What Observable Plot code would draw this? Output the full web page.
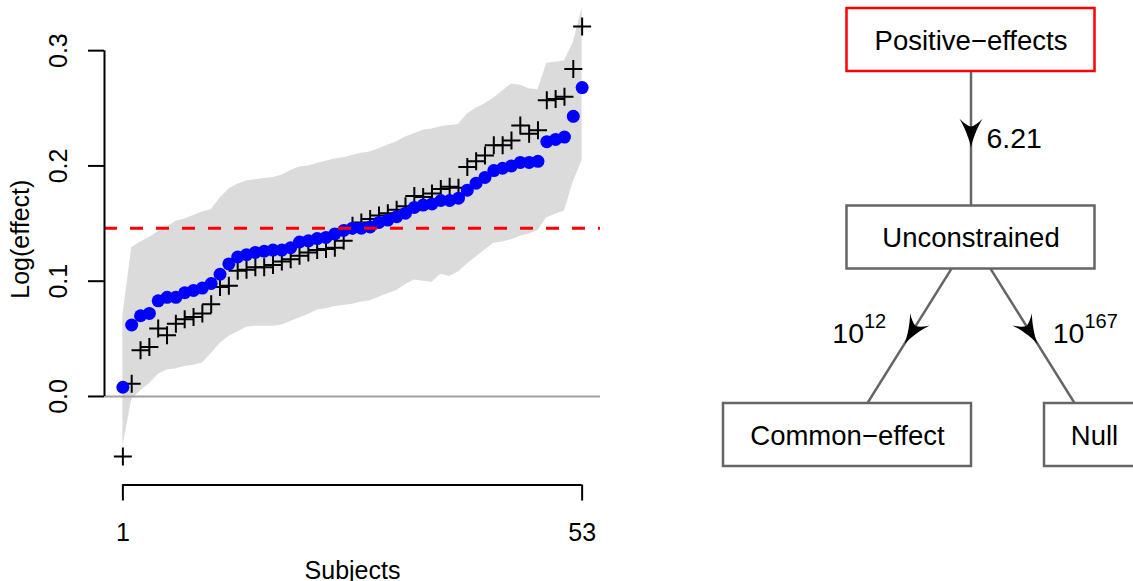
<!DOCTYPE html>
<html><head><meta charset="utf-8">
<script src="https://cdn.jsdelivr.net/npm/d3@7"></script>
<script src="https://cdn.jsdelivr.net/npm/@observablehq/plot@0.6"></script>
<style>
html,body{margin:0;padding:0;background:#fff;overflow:hidden;}
#wrap{display:flex;width:1133px;height:581px;overflow:hidden;}
#wrap > svg{flex:none;max-width:none;overflow:visible;}
</style></head><body><div id="wrap"></div>
<script>
// ---------- data: left panel ----------
const subjects = d3.range(1, 54);
const estimate = [0.008,0.062,0.070,0.072,0.083,0.086,0.086,0.090,0.092,0.094,
  0.098,0.106,0.115,0.121,0.123,0.125,0.126,0.127,0.127,0.129,
  0.134,0.135,0.137,0.138,0.141,0.144,0.146,0.146,0.147,0.151,
  0.153,0.156,0.159,0.164,0.166,0.167,0.170,0.170,0.172,0.179,
  0.185,0.190,0.196,0.198,0.200,0.203,0.203,0.204,0.221,0.223,
  0.225,0.243,0.268];
const observed = [-0.052,0.011,0.040,0.043,0.059,0.053,0.063,0.067,0.069,0.072,
  0.080,0.095,0.096,0.109,0.110,0.112,0.112,0.114,0.117,0.119,
  0.122,0.125,0.127,0.128,0.129,0.135,0.148,0.151,0.154,0.157,
  0.159,0.162,0.165,0.174,0.173,0.176,0.180,0.182,0.181,0.199,
  0.204,0.209,0.218,0.218,0.222,0.235,0.228,0.231,0.257,0.258,
  0.260,0.284,0.321];
const lower = [-0.044,-0.003,0.005,0.011,0.019,0.023,0.024,0.026,0.027,0.029,
  0.037,0.046,0.052,0.056,0.060,0.061,0.061,0.061,0.062,0.065,
  0.068,0.071,0.075,0.076,0.078,0.079,0.080,0.082,0.083,0.086,
  0.089,0.092,0.097,0.101,0.100,0.099,0.106,0.104,0.108,0.115,
  0.121,0.127,0.133,0.134,0.136,0.139,0.141,0.144,0.155,0.158,
  0.161,0.186,0.205];
const upper = [0.070,0.129,0.134,0.138,0.143,0.147,0.152,0.154,0.157,0.160,
  0.162,0.172,0.180,0.184,0.187,0.188,0.189,0.190,0.192,0.196,
  0.199,0.200,0.202,0.204,0.206,0.207,0.209,0.211,0.212,0.215,
  0.218,0.221,0.225,0.228,0.231,0.232,0.234,0.235,0.236,0.245,
  0.250,0.254,0.259,0.265,0.271,0.270,0.267,0.266,0.289,0.290,
  0.291,0.307,0.337];
const referenceLine = 0.146;
const xTicks = [1, 53];
const yTicks = [0, 0.1, 0.2, 0.3];
const xLabel = "Subjects";
const yLabel = "Log(effect)";

// ---------- data: right panel ----------
const models = ["Positive−effects", "Unconstrained", "Common−effect", "Null"];
const modelLevel = [0, 1, 2, 2];
const modelColumn = [0, 0, -1, 1];
const modelHighlight = [true, false, false, false];
const edgeFrom = [0, 1, 1];
const edgeTo = [1, 2, 3];
const edgeLabels = ["6.21", "10^12", "10^167"];

const FONT = "'Liberation Sans', Arial, Helvetica, sans-serif";

// ---------- left panel ----------
const rows = subjects.map((s, i) => ({s, est: estimate[i], obs: observed[i], lo: lower[i], hi: upper[i]}));
const xDom = [-1.08, 55.08];
const yDom = [-0.0768, 0.3435];
const plusSymbol = {draw(c) { c.moveTo(-9, 0); c.lineTo(9, 0); c.moveTo(0, -9); c.lineTo(0, 9); }};

const left = Plot.plot({
  width: 620, height: 581,
  marginLeft: 104, marginRight: 20, marginTop: 0, marginBottom: 96.5,
  style: {fontFamily: FONT, fontSize: "25px", background: "white", color: "black"},
  x: {domain: xDom},
  y: {domain: yDom},
  marks: [
    Plot.areaY(rows, {x: "s", y1: "lo", y2: "hi", fill: "#dbdbdb"}),
    Plot.ruleY([0], {stroke: "#a0a0a0", strokeWidth: 2}),
    Plot.dot(rows, {x: "s", y: "obs", symbol: plusSymbol, stroke: "black", strokeWidth: 2, fill: "none"}),
    Plot.dot(rows, {x: "s", y: "est", r: 6.5, fill: "blue", stroke: "none"}),
    Plot.ruleY([referenceLine], {stroke: "red", strokeWidth: 3, strokeDasharray: "13 13"}),
    Plot.ruleX([xDom[0]], {y1: yTicks[0], y2: yTicks[yTicks.length - 1], stroke: "black", strokeWidth: 2}),
    Plot.ruleY([yDom[0]], {x1: xTicks[0], x2: xTicks[1], stroke: "black", strokeWidth: 2}),
    Plot.axisY({ticks: yTicks, tickFormat: d3.format(".1f"), tickSize: 16, tickRotate: -90, tickPadding: 22, fontSize: 25, strokeWidth: 2, label: null}),
    Plot.axisX({ticks: xTicks, tickFormat: d => String(d), tickSize: 16, tickPadding: 22, fontSize: 25, strokeWidth: 2, label: null}),
    Plot.text([xLabel], {text: d => d, frameAnchor: "bottom", lineAnchor: "top", dy: 76, fontSize: 25}),
    Plot.text([yLabel], {text: d => d, frameAnchor: "left", rotate: -90, dx: -84, dy: 56, fontSize: 25})
  ]
});

// ---------- right panel ----------
const nodes = models.map((name, i) => ({name, level: modelLevel[i], col: modelColumn[i], hi: modelHighlight[i]}));
const RW = 513, RH = 581, rML = 227, rMR = 39, rMT = 39.5, rMB = 146.5;
const kx = (RW - rML - rMR) / 2, ky = (RH - rMT - rMB) / 2;
const edges = edgeFrom.map((f, k) => {
  const a = nodes[f], b = nodes[edgeTo[k]];
  const dxp = (b.col - a.col) * kx, dyp = (b.level - a.level) * ky;
  return {x1: a.col, y1: a.level, x2: b.col, y2: b.level,
    xm: (a.col + b.col) / 2, ym: (a.level + b.level) / 2,
    angle: Math.atan2(-dxp, dyp) * 180 / Math.PI, label: edgeLabels[k]};
});
const arrowHead = {draw(c) {
  c.moveTo(0, 9);
  c.bezierCurveTo(-1.5, 1, -6, -11, -11.5, -20);
  c.quadraticCurveTo(-5, -13.5, 0, -12);
  c.quadraticCurveTo(5, -13.5, 11.5, -20);
  c.bezierCurveTo(6, -11, 1.5, 1, 0, 9);
  c.closePath();
}};
const boxHalfWidth = {"Null": 50};
const boxStyle = (hw) => ({x1: "col", x2: "col", y1: "level", y2: "level",
  insetLeft: -hw, insetRight: -hw, insetTop: -31.5, insetBottom: -31.5,
  fill: "white", strokeWidth: 2.5});
const wideNodes = nodes.filter(d => !(d.name in boxHalfWidth));
const narrowNodes = nodes.filter(d => d.name in boxHalfWidth);

const right = Plot.plot({
  width: RW, height: RH,
  marginLeft: rML, marginRight: rMR, marginTop: rMT, marginBottom: rMB,
  style: {fontFamily: FONT, fontSize: "27px", background: "white", color: "black", overflow: "visible"},
  x: {domain: [-1, 1], axis: null},
  y: {domain: [0, 2], reverse: true, axis: null},
  marks: [
    Plot.link(edges, {x1: "x1", y1: "y1", x2: "x2", y2: "y2", stroke: "#666666", strokeWidth: 2.5}),
    Plot.dot(edges, {x: "xm", y: "ym", symbol: arrowHead, rotate: "angle", fill: "black", stroke: "none"}),
    Plot.rect(wideNodes.filter(d => !d.hi), {...boxStyle(124), stroke: "#666666"}),
    Plot.rect(wideNodes.filter(d => d.hi), {...boxStyle(124), stroke: "#ff0000"}),
    Plot.rect(narrowNodes, {...boxStyle(50), stroke: "#666666"}),
    Plot.text(nodes, {x: "col", y: "level", text: "name", fontSize: 27.5, dy: 1}),
    Plot.text([edges[0]], {x: "xm", y: "ym", text: "label", textAnchor: "start", dx: 15.5, dy: 0, fontSize: 28.5}),
    Plot.text([edges[1]], {x: "xm", y: "ym", text: "label", textAnchor: "end", dx: -23, dy: -2, fontSize: 28.5}),
    Plot.text([edges[2]], {x: "xm", y: "ym", text: "label", textAnchor: "start", dx: 20, dy: -2, fontSize: 28.5})
  ]
});

// superscripts for powers of ten
right.querySelectorAll("text").forEach(t => {
  const s = t.textContent;
  if (s.includes("^")) {
    const [b, e] = s.split("^");
    t.textContent = b;
    const ts = document.createElementNS("http://www.w3.org/2000/svg", "tspan");
    ts.setAttribute("dy", "-15");
    ts.setAttribute("font-size", "20");
    ts.textContent = e;
    t.appendChild(ts);
  }
});

const wrap = document.getElementById("wrap");
wrap.appendChild(left);
wrap.appendChild(right);
</script></body></html>
